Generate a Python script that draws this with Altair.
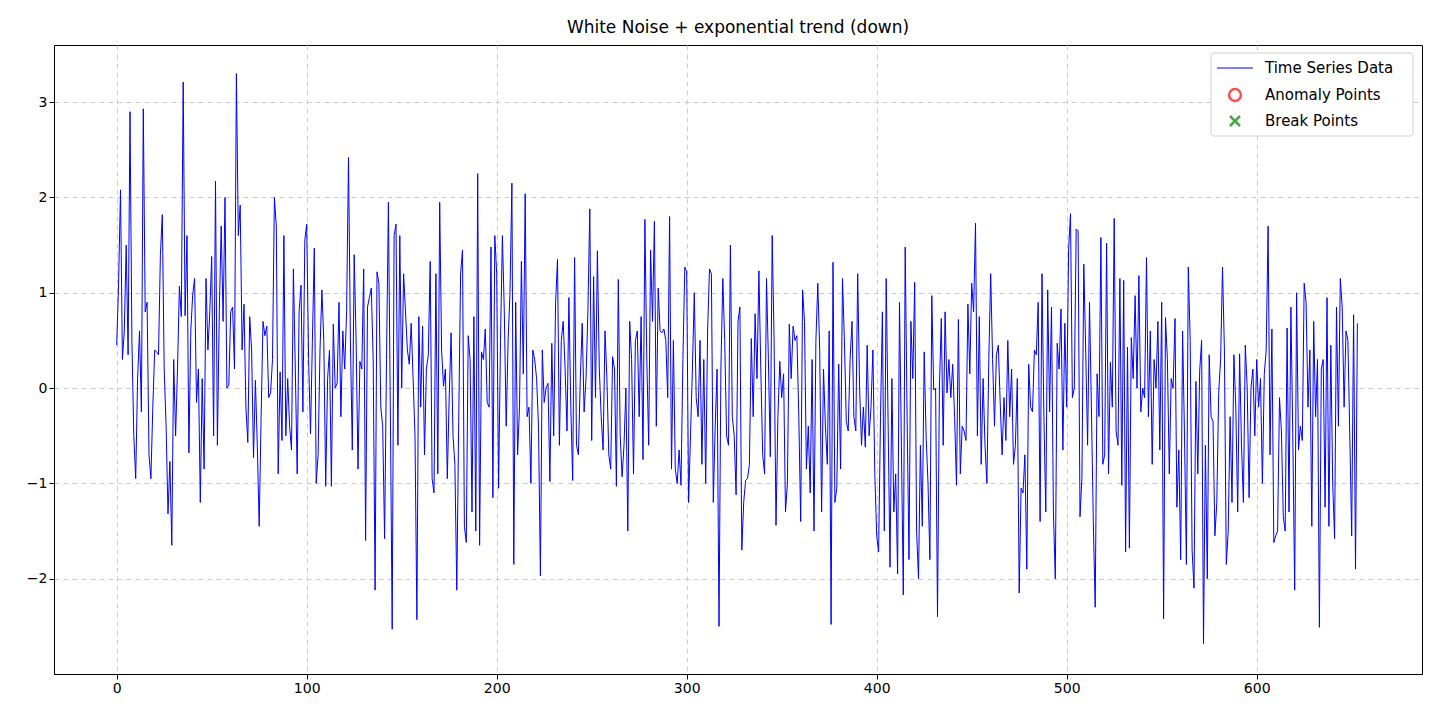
import pandas as pd
import altair as alt

TITLE = "White Noise + exponential trend (down)"

values = [
    0.45, 1.1, 2.08, 0.3, 0.6, 1.5, 0.35, 2.9, 0.5, -0.5, -0.95, 0.1, 0.6, -0.25, 2.93, 0.8, 0.9, -0.7, -0.95, -0.2,
    0.4, 0.38, 0.35, 1.4, 1.82, 0.2, -0.4, -1.32, -0.77, -1.65, 0.3, -0.5, 0.2, 1.07, 0.75, 3.21, 0.76, 1.6, -0.68, 0.6,
    0.98, 1.15, -0.15, 0.2, -1.2, 0.1, -0.85, 1.15, 0.4, 0.8, 1.38, -0.5, 2.17, -0.6, 0.8, 1.7, 0.7, 2.0, 0.0, 0.03,
    0.8, 0.85, 0.2, 3.3, 1.6, 1.92, 0.4, 0.88, -0.2, -0.57, 0.75, 0.4, -0.73, 0.08, -0.6, -1.45, -0.3, 0.7, 0.55, 0.65,
    -0.1, -0.05, 0.3, 2.0, 1.7, -0.9, 0.17, -0.55, 1.6, -0.5, 0.1, -0.4, -0.65, 1.25, 0.2, -0.9, 0.8, 1.08, -0.25, 1.55,
    1.72, 0.3, -0.48, 0.5, 1.47, -1.0, -0.7, 0.4, 1.03, 0.5, -1.03, 0.1, 0.4, -1.03, 0.67, 0.0, 0.05, 0.9, -0.3, 0.6,
    0.2, 0.8, 2.42, 0.5, -0.65, 1.4, 0.5, -0.85, 0.28, 0.2, 1.25, -1.6, 0.85, 0.95, 1.05, 0.3, -2.12, 1.22, 1.1, -0.2,
    -0.4, -1.58, 0.3, 1.95, -0.2, -2.53, 1.6, 1.72, -0.6, 1.6, 0.0, 1.2, 0.8, 0.4, 0.25, 0.68, 0.1, -0.5, -2.43, 0.75,
    -0.2, 0.65, -0.7, 0.2, 0.35, 1.33, -0.95, -1.1, 1.2, -0.9, 1.95, 0.4, 0.02, 0.2, -0.95, -0.1, 0.58, -0.5, -0.8, -2.12,
    -0.35, 1.2, 1.45, -1.45, -1.62, 0.55, 0.3, -1.3, 0.75, -1.5, 2.25, -1.65, 0.38, 0.3, 0.62, -0.15, -0.2, 1.48, -1.15, 1.6,
    1.2, -1.05, 0.5, 1.6, 0.8, -0.4, 0.5, 1.0, 2.15, -1.85, 0.9, -0.7, -0.2, 1.33, 0.15, 2.04, -0.3, -0.2, -1.0, 0.4,
    0.3, 0.1, -0.4, -1.97, 0.4, -0.15, 0.0, 0.05, -0.98, 0.47, -0.5, 0.9, 1.35, -0.6, 0.5, 0.7, 0.2, -0.45, 0.95, -0.2,
    -0.97, 1.37, -0.6, -0.7, 0.1, 0.68, -0.25, 0.1, 0.8, 1.88, -0.55, 1.17, -0.1, 1.44, 0.2, -0.3, -0.65, 0.6, 0.1, -0.7,
    -0.85, 0.33, 0.2, -1.03, 1.14, -0.5, -0.93, -0.6, 0.0, -1.5, 0.7, 0.3, -0.9, 0.5, 0.6, -0.3, 0.75, -0.75, 1.77, 0.3,
    -0.6, 1.45, 0.7, 1.75, -0.4, 1.05, 0.6, 0.58, 0.62, 0.5, -0.1, 1.8, -0.85, 0.5, -0.85, -1.0, -0.65, -1.02, 0.3, 1.27,
    1.22, -1.2, -0.5, 0.2, 1.0, -0.1, -0.3, 0.5, -0.8, 0.3, -1.0, 0.6, 1.25, 1.2, -1.2, -0.4, 0.2, -2.5, 0.2, 1.15,
    0.5, -0.5, -0.6, 1.5, -0.3, -0.5, -1.12, 0.7, 0.85, -1.7, -1.2, -0.97, -0.95, -0.8, 0.52, -0.3, 0.78, 0.1, 1.23, 0.2,
    -0.7, -0.9, 1.15, 0.3, -0.72, 1.6, 0.5, -1.44, -0.3, 0.28, -0.1, 0.15, -1.3, -1.0, 0.67, 0.1, 0.65, 0.5, 0.55, -0.3,
    -1.4, 1.03, 0.7, -0.85, -0.4, -1.1, 0.3, -1.5, 0.5, 1.1, 0.4, -1.3, 0.2, -0.4, -0.8, 0.6, -2.48, 1.32, -1.2, -1.05,
    0.25, -0.85, 1.15, 0.5, -0.35, -0.45, 0.3, 0.7, -0.3, -0.45, 1.2, 0.0, -0.6, -0.2, -0.62, 0.45, -0.5, -0.2, 0.4, -0.9,
    -1.55, -1.72, -0.3, 0.8, -1.5, 1.15, -0.35, -1.88, 0.1, -1.3, -0.9, -1.95, 0.9, -0.6, -2.17, 1.48, -0.3, -1.8, 0.7, 0.1,
    1.11, -1.5, -2.0, -0.6, -1.45, 0.38, -0.5, -1.0, -1.8, 0.97, -0.02, 0.0, -2.4, 0.0, 0.73, -0.6, 0.8, -0.05, 0.3, -0.1,
    0.25, -0.3, -1.02, 0.72, -0.9, -0.4, -0.45, -0.55, 0.88, 0.15, 1.1, 0.8, 1.73, -0.5, 0.75, -0.8, 0.1, -0.6, -1.0, 0.3,
    1.2, 0.3, -0.4, 0.35, 0.45, -0.15, -0.7, -0.1, -0.55, 0.5, -0.3, 0.2, -0.8, -0.6, 0.1, -2.15, -1.05, -1.1, -0.7, -1.9,
    0.25, -0.2, -0.25, 0.4, 0.35, 0.9, -1.4, 1.2, -0.3, -1.3, 1.03, -0.25, 0.85, -1.3, -2.0, 0.47, 0.2, 0.83, -0.65, 0.68,
    -0.2, 1.45, 1.83, -0.1, 0.0, 1.67, 1.65, -1.35, -0.95, 1.3, 0.4, -0.6, 0.9, -0.2, -1.4, -2.3, 0.15, -0.3, 1.58, -0.8,
    -0.7, 1.52, -0.9, 0.27, -0.2, 1.78, -0.45, -0.6, 1.15, -1.02, 1.13, -1.72, 0.43, -1.68, 0.53, 0.1, 0.97, 0.0, 1.18, -0.25,
    0.0, -0.1, 1.37, -0.3, 0.6, -0.8, 0.3, 0.0, 0.7, -0.65, 0.9, -2.42, 0.74, 0.3, -0.9, 0.1, 0.0, 0.73, -1.25, -0.65,
    -1.8, 0.6, -0.5, -1.85, 1.27, 0.5, -1.7, -2.1, 0.07, -0.9, 0.18, 0.5, -2.68, -0.6, -2.0, 0.35, -0.3, -0.35, -1.55, -1.2,
    -0.05, 0.3, 1.27, 0.4, -1.85, -1.5, -0.3, -1.2, 0.35, -0.2, -1.3, 0.36, -0.6, -1.2, 0.45, 0.0, -1.15, 0.0, 0.2, -0.5,
    0.3, -0.2, 0.1, -1.0, 0.15, 0.4, 1.7, -0.7, 0.62, -1.62, -1.55, -1.5, -0.1, -0.45, -1.35, -1.5, 0.63, -1.3, 0.85, -0.5,
    -2.12, 1.0, -0.65, -0.4, -0.55, 1.1, 0.9, -0.2, 0.4, -1.45, 0.7, -0.3, 0.3, -2.51, 0.2, 0.3, -1.25, 0.95, -1.45, 0.45,
    -1.0, -1.58, 0.85, -0.4, 1.15, 0.85, -0.2, 0.6, 0.5, -0.5, -1.55, 0.77, -1.9, 0.68,
]

legend_labels = ["Time Series Data", "Anomaly Points", "Break Points"]

df = pd.DataFrame({"t": range(len(values)), "v": values})
one = pd.DataFrame({"a": [0]})
FONT = "DejaVu Sans"

line = alt.Chart(df).mark_line(color="blue", strokeWidth=1).encode(
    x=alt.X("t:Q", scale=alt.Scale(domain=[-33, 687], nice=False, zero=False),
            axis=alt.Axis(values=[0, 100, 200, 300, 400, 500, 600], title=None)),
    y=alt.Y("v:Q", scale=alt.Scale(domain=[-3.0, 3.6], nice=False, zero=False),
            axis=alt.Axis(values=[-2, -1, 0, 1, 2, 3], title=None)),
)

# legend drawn by hand (no anomaly / break points in the data)
box = alt.Chart(one).mark_rect(fill="white", stroke="#cccccc", cornerRadius=3, opacity=0.9).encode(
    x=alt.value(1157), x2=alt.value(1359), y=alt.value(8), y2=alt.value(91))
leg_line = alt.Chart(one).mark_rule(color="blue", strokeWidth=1).encode(
    x=alt.value(1163), x2=alt.value(1199), y=alt.value(23))
leg_circle = alt.Chart(one).mark_point(shape="circle", color="red", strokeWidth=2.5, size=140, filled=False).encode(
    x=alt.value(1181), y=alt.value(50))
leg_cross = alt.Chart(one).mark_point(shape="M-1,-1L1,1M1,-1L-1,1", color="green", strokeWidth=2.5,
                                      size=100, filled=False).encode(
    x=alt.value(1181), y=alt.value(76))
layers = [line, box, leg_line, leg_circle, leg_cross]
for label, ypos in zip(legend_labels, [23, 50, 76]):
    layers.append(alt.Chart(one).mark_text(
        align="left", baseline="middle", fontSize=15, font=FONT, color="black", text=label).encode(
        x=alt.value(1211), y=alt.value(ypos)))

chart = alt.layer(*layers).properties(
    width=1368, height=629,
    title=alt.TitleParams(TITLE, fontSize=17, font=FONT, fontWeight="normal", offset=8),
    autosize=alt.AutoSizeParams(type="none"),
    padding={"left": 46, "top": 37, "right": 10, "bottom": 30},
).configure_axis(
    grid=True, gridDash=[5, 4], gridColor="#cccccc", gridOpacity=1,
    labelFont=FONT, labelFontSize=14, labelColor="black",
    domainColor="black", tickColor="black", tickSize=5,
).configure_view(stroke="black", strokeWidth=1)

chart.save("out.html", embed_options={"renderer": "svg", "actions": False})
